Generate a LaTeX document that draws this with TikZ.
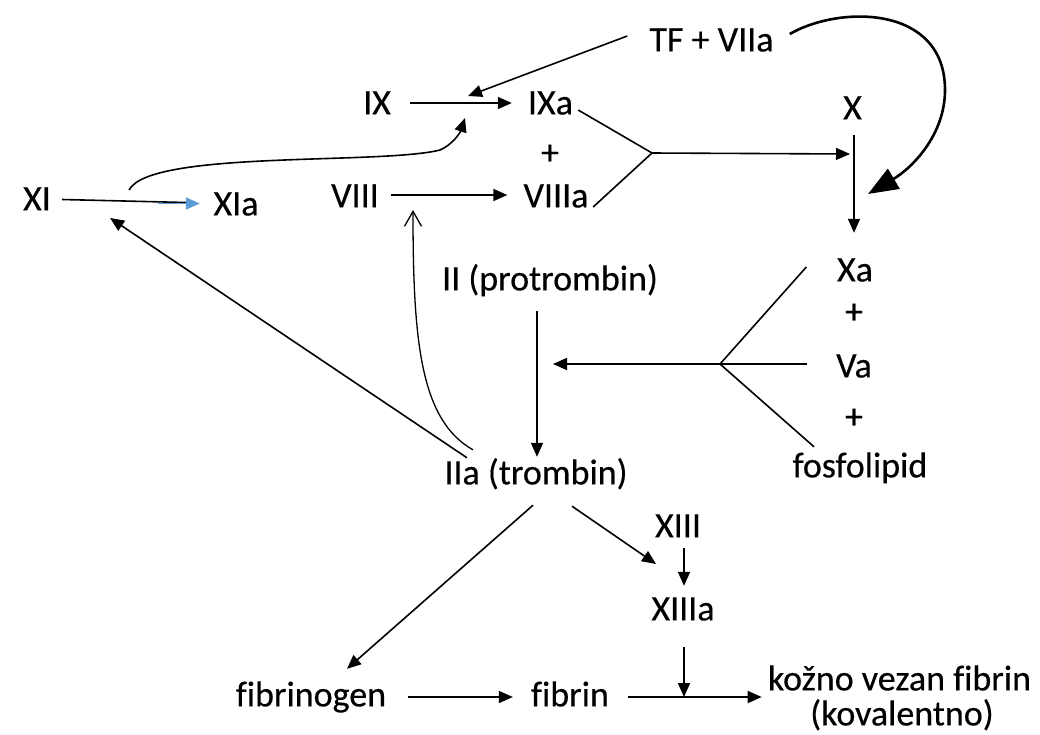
\documentclass[tikz,border=0pt]{standalone}
\usepackage{fontspec}
\setmainfont{Carlito}[Ligatures=NoCommon, FakeBold=0.35]
\usetikzlibrary{arrows.meta}
\definecolor{tipblue}{RGB}{91,155,213}
\begin{document}
\begin{tikzpicture}[x=1pt, y=-1pt,
  lbl/.style={inner sep=0pt, text height=22.8pt, text depth=0pt,
              font=\fontsize{36}{40}\selectfont},
  conn/.style={line width=1.6pt},
  arr/.style={conn, -{Triangle[length=14pt,width=12pt]}},
  openarr/.style={line width=1.3pt, -{Straight Barb[length=15pt,width=17pt]}},
  bigarr/.style={line width=2.6pt, -{Triangle[length=30pt,width=23pt]}}]
\useasboundingbox (0,0) rectangle (1040,734);

% factors
\node[lbl] (tf)    at (711.5,40) {TF + VIIa};
\node[lbl] (ix)    at (377,103)  {IX};
\node[lbl] (ixa)   at (550.5,103) {IXa};
\node[lbl] (x)     at (852.5,108) {X};
\node[lbl] (plA)   at (550,153)  {+};
\node[lbl] (viii)  at (355,196)  {VIII};
\node[lbl] (viiia) at (556,196)  {VIIIa};
\node[lbl] (xi)    at (37,199)   {XI};
\node[lbl] (xia)   at (236,204)  {XIa};
\node[lbl] (ii)    at (550,279)  {II (protrombin)};
\node[lbl] (xa)    at (855,270)  {Xa};
\node[lbl] (plB)   at (854,312)  {+};
\node[lbl] (va)    at (854,366)  {Va};
\node[lbl] (plC)   at (854,417)  {+};
\node[lbl] (fos)   at (860,466)  {fosfolipid};
\node[lbl] (iia)   at (536,473)  {IIa (trombin)};
\node[lbl] (xiii)  at (678,526)  {XIII};
\node[lbl] (xiiia) at (683,609)  {XIIIa};
\node[lbl] (fbg)   at (311,695)  {fibrinogen};
\node[lbl] (fib)   at (570,695)  {fibrin};
\node[lbl] (kv)    at (899.5,679) {kožno vezan fibrin};
\node[lbl] (kov)   at (902,714)  {(kovalentno)};

% junctions and points on reaction arrows
\coordinate (j1) at (652,153);
\coordinate (j2) at (720,364);
\coordinate (tfhit)   at (468,96);
\coordinate (xihit)   at (465,118);
\coordinate (xhit)    at (850,154);
\coordinate (xahit)   at (868,194);
\coordinate (iihit)   at (553,364);
\coordinate (viiihit) at (413,210);
\coordinate (xiiihit) at (656,564);
\coordinate (fibhit)  at (684,697);

% intrinsic / extrinsic path
\draw[arr] ([shift={(-22,-4)}]tf.west) -- (tfhit);
\draw[arr] ([shift={(19,0)}]ix.east) -- ([shift={(-16,0)}]ixa.west);
\draw[conn] ([shift={(11,0.5)}]xi.east) -- ([shift={(-27.5,-1.5)}]xia.west);
\draw[line width=1.8pt, tipblue, -{Triangle[length=14pt,width=12pt]}]
  ([shift={(-55.5,-0.5)}]xia.west) -- ([shift={(-13.5,-0.5)}]xia.west);
\draw[arr] ([shift={(78,-9)}]xi.east)
  .. controls (150,150) and (380,165) .. (440,150)
  .. controls (452,145) and (460,133) .. (xihit);
\draw[arr] ([shift={(12,-1)}]viii.east) -- ([shift={(-16,-1)}]viiia.west);
\draw[conn] ([shift={(5,7)}]ixa.east) -- (j1);
\draw[conn] ([shift={(4.5,11)}]viiia.east) -- (j1);
\draw[arr] (j1) -- (xhit);
\draw[arr] ([shift={(1.5,15.6)}]x.south) -- ([shift={(-1,-25.6)}]xa.north);
\draw[bigarr] ([shift={(16,-6)}]tf.east)
  .. controls (840,5) and (945,5) .. (945,90)
  .. controls (945,135) and (912,168) .. (xahit);

% prothrombinase
\draw[conn] (j2) -- ([shift={(-30.5,-3)}]xa.west);
\draw[conn] (j2) -- ([shift={(-28.5,-2)}]va.west);
\draw[conn] (j2) -- ([shift={(-46,-7.6)}]fos.north);
\draw[arr] (j2) -- (iihit);
\draw[arr] ([shift={(-13,20.6)}]ii.south) -- ([shift={(1,-4.6)}]iia.north);

% thrombin feedback and fibrin formation
\draw[arr] ([shift={(-69,-3.6)}]iia.north) -- ([shift={(59,19)}]xi.east);
\draw[openarr] ([shift={(-63,-11.6)}]iia.north)
  .. controls (420,420) and (413,340) .. (viiihit);
\draw[arr] ([shift={(-3,20.6)}]iia.south) -- ([shift={(36,-14.6)}]fbg.north);
\draw[arr] ([shift={(36,21.6)}]iia.south) -- (xiiihit);
\draw[arr] ([shift={(6,10.6)}]xiii.south) -- ([shift={(1,-11.6)}]xiiia.north);
\draw[arr] ([shift={(1,26.6)}]xiiia.south) -- (fibhit);
\draw[arr] ([shift={(21.7,2)}]fbg.east) -- ([shift={(-18,2)}]fib.west);
\draw[arr] ([shift={(19,2)}]fib.east) -- ([shift={(-6,18)}]kv.west);
\end{tikzpicture}
\end{document}
